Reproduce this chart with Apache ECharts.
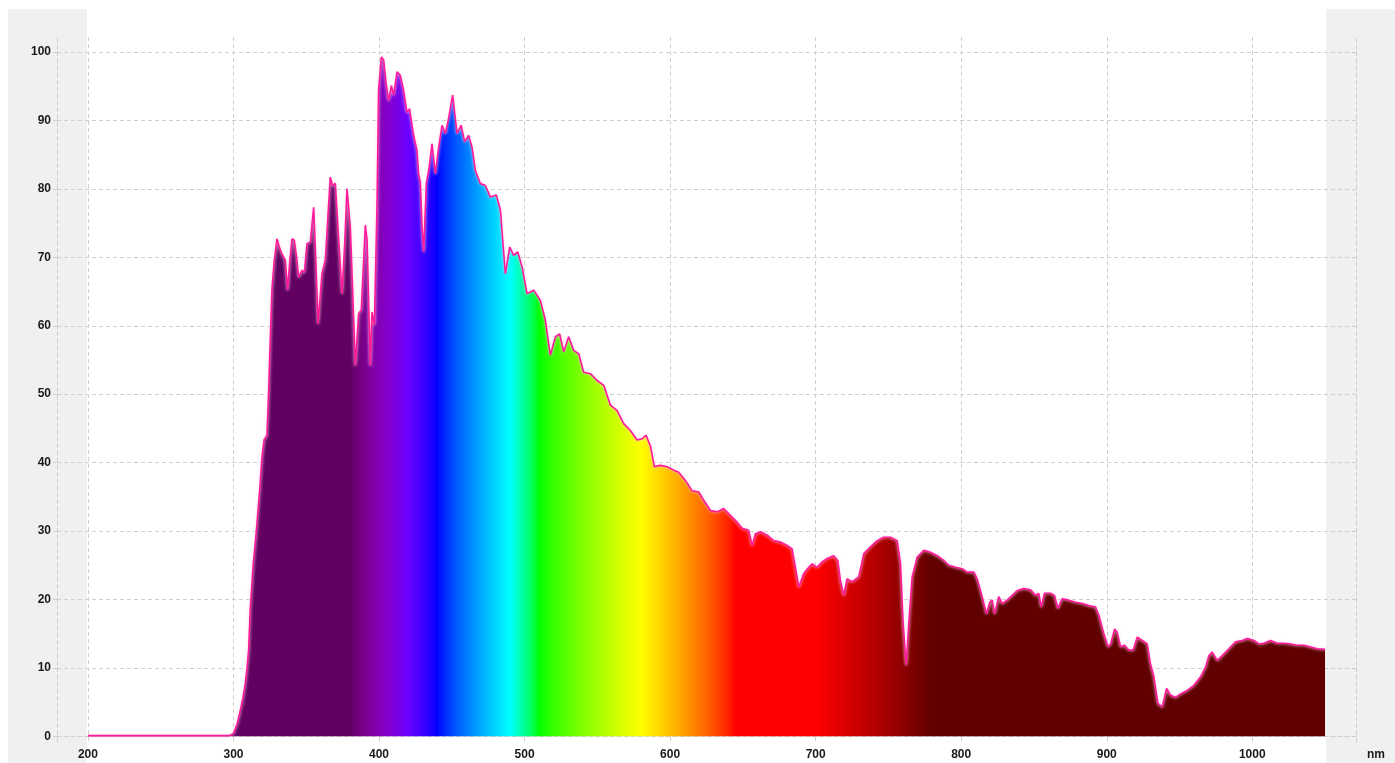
<!DOCTYPE html>
<html><head><meta charset="utf-8">
<script src="https://cdn.jsdelivr.net/npm/echarts@6/dist/echarts.min.js"></script>
<style>html,body{margin:0;padding:0;background:#fff}#c{width:1395px;height:763px}</style>
</head><body><div id="c"></div>
<script>
const wavelengths = [200,215,216,217,255,256,257,270,271,272,297,300,302.5,304.7,306.5,308.1,309.3,310.4,311.5,313.5,315.7,318,319.6,321,323,324.1,325.2,326.4,328,329.9,331.5,333.3,335.6,337.2,338.7,340.2,341.8,343.4,344.8,347.1,348.7,350.5,352.8,355.1,356.6,358.1,360.8,363.1,366.5,368.1,370,372.2,374.6,376.4,378,380.3,382,383.7,386,387.8,390.6,391.8,394,395.2,396.8,398.6,399.7,401.6,403.2,405,406.6,408.5,410,412.4,414.6,416.9,419.2,421,423.8,426.1,427.2,428.4,429.6,430.7,432.5,434.5,436.4,438.7,441,443.3,445.6,447.8,450.6,453.6,456.4,458.8,461.6,463.9,466.2,469.6,473.1,476.5,480.6,483.4,486.8,489.8,492.5,495.3,498.3,501.7,506.3,510.9,514.3,517.7,521.2,524.1,526.9,530.3,533.7,537.2,540.6,545.2,549.8,554.4,559,563.6,568.1,572.7,577.3,580.8,583.5,586.5,589.2,593.4,597.9,602.5,605.9,610.5,615.1,619.7,623.1,627.7,632.3,636.8,641.4,646,649.5,654,656.4,658.6,662.1,666.7,671.2,675.8,680.4,683.8,686.1,688.4,691.8,695.3,697.6,701,704.5,707.9,712.4,715.2,717,719.3,721.6,725.1,729.6,733.1,737.7,742.3,746.8,751.4,756,758.3,760.1,762.2,764,766.3,769.8,774.3,778.9,783.5,788.1,791.5,796.1,800.7,804.1,808.7,811,814.4,817.4,819.7,821.3,822.9,825.8,828.2,831.6,835.1,838.5,843,847.6,851.1,853.3,855,857.2,861.4,864.1,866.4,869.4,874,878.6,883.2,887.7,892.3,894.6,898,900.8,902.7,905.4,907.2,909.5,912.2,915.2,918.2,921,924.4,927.8,930,932.4,935.1,938.1,941.1,943.8,947.3,950.7,955.3,959.9,964.5,967.9,970.2,972.5,975.9,979.4,983.9,988.5,993.1,996.6,1001.1,1004.6,1008,1012.6,1017.2,1021.7,1026.3,1030.9,1035.5,1040.1,1044.7,1050];
const intensity = [0.1,0.12,0.2,0.1,0.1,0.25,0.1,0.1,0.2,0.1,0.1,0.4,1.8,3.8,5.6,7.7,10,12.6,18.5,25,30,36,40.8,43.3,44,50.1,57.5,65.2,69.5,72.7,71.5,70.5,69.6,65.2,69.5,72.7,72.5,70,67.1,68.1,67.8,72,72.2,77.3,69.5,60.3,67.6,69.6,81.7,80.5,80.8,73,64.7,72,80,74.4,64.5,54.2,61.8,62.3,74.7,72.5,54.2,62,60.1,77.3,94.4,99.3,98.8,95.2,92.9,95.1,93.7,97.1,96.6,94.4,91.2,91.7,87.8,85.6,82.2,81,74.4,70.8,80.8,83.2,86.6,82.2,86.1,89.3,88.1,90.3,93.7,88.1,89.3,86.9,87.8,86.1,82.7,80.8,80.5,78.8,79.1,76.9,67.6,71.5,70.3,70.8,68.6,64.7,65.2,63.7,60.8,55.7,58.4,58.8,56.2,58.4,56.4,55.9,53.2,53,52,51.3,48.4,47.6,45.7,44.7,43.3,43.5,44,42.4,39.4,39.6,39.4,38.9,38.6,37.4,35.9,35.7,34.5,33,32.8,33.3,32.3,31.3,30.4,30.1,27.9,29.6,29.9,29.4,28.6,28.4,27.9,27.4,24.7,21.8,23.8,24.7,25.2,24.7,25.5,26,26.4,25.7,22.8,20.6,23,22.6,23.3,26.7,27.7,28.6,29.1,29.1,28.6,25.2,16.5,10.4,16.5,23.3,26.2,27.2,26.9,26.4,25.7,25,24.7,24.5,24,24,23,20.4,17.9,19.6,19.9,17.9,20.4,19.4,19.9,20.6,21.3,21.6,21.4,20.6,20.9,18.9,20.9,20.9,20.6,18.7,20.1,19.9,19.6,19.4,19.1,18.9,17.7,15,13.1,13.5,15.7,15.2,13.1,13.3,12.6,12.6,14.5,14,13.5,10.6,8.7,4.8,4.3,7,6,5.7,6.2,6.7,7.45,8.7,10.1,11.8,12.3,11.1,11.8,12.8,13.8,14,14.3,14,13.5,13.6,14,13.6,13.6,13.5,13.3,13.3,13.05,12.8,12.7];
const xTicks = [200,300,400,500,600,700,800,900,1000];
const yTicks = [0,10,20,30,40,50,60,70,80,90,100];
const dataMin = 200, dataMax = 1050;

const seriesData = wavelengths.map((w, i) => [w, intensity[i]]);

// visible-spectrum colour for a wavelength (style only)
function spectrumColor(l) {
  l = Math.max(380, Math.min(780, l));
  let r = 0, g = 0, b = 0;
  if (l < 440) { r = -(l - 440) / 60; b = 1; }
  else if (l < 490) { g = (l - 440) / 50; b = 1; }
  else if (l < 510) { g = 1; b = -(l - 510) / 20; }
  else if (l < 580) { r = (l - 510) / 70; g = 1; }
  else if (l < 645) { r = 1; g = -(l - 645) / 65; }
  else { r = 1; }
  let f = 1;
  if (l < 420) f = 0.3 + 0.7 * (l - 380) / 40;
  else if (l > 700) f = 0.3 + 0.7 * (780 - l) / 80;
  const c = v => Math.round(255 * Math.pow(v * f, 0.8));
  return 'rgb(' + c(r) + ',' + c(g) + ',' + c(b) + ')';
}
const stops = [];
for (let l = dataMin; l <= dataMax; l += 2.5) {
  stops.push({ offset: (l - dataMin) / (dataMax - dataMin), color: spectrumColor(l) });
}

const gridLine = { show: true, lineStyle: { color: '#cfcfcf', type: [4, 3], width: 1 } };
const border = { show: true, lineStyle: { color: '#cfcfcf', type: [4, 3], width: 1 } };
const labelStyle = { color: '#1a1a1a', fontWeight: 'bold', fontSize: 12, fontFamily: 'Liberation Sans, Arial, sans-serif' };

const chart = echarts.init(document.getElementById('c'), null, { renderer: 'canvas' });
chart.setOption({
  animation: false,
  backgroundColor: '#ffffff',
  grid: { left: 57, top: 37, right: 39, bottom: 21, containLabel: false, outerBoundsMode: 'none' },
  xAxis: [{
    type: 'value', min: 178.75, max: 1071.25,
    axisLine: border,
    axisTick: { show: true, length: 4, customValues: xTicks, lineStyle: { color: '#cfcfcf' } },
    axisLabel: Object.assign({ customValues: xTicks, margin: 7, formatter: v => String(v) }, labelStyle),
    splitLine: gridLine,
    name: 'nm', nameLocation: 'end', nameGap: 11,
    nameTextStyle: Object.assign({ verticalAlign: 'top', padding: [12, 0, 0, 0] }, labelStyle)
  }, {
    type: 'value', position: 'top', min: 178.75, max: 1071.25,
    axisLine: border, axisTick: { show: false }, axisLabel: { show: false }, splitLine: { show: false }
  }],
  yAxis: [{
    type: 'value', min: -0.83, max: 102.2,
    axisLine: border,
    axisTick: { show: true, length: 4, customValues: yTicks, lineStyle: { color: '#cfcfcf' } },
    axisLabel: Object.assign({ customValues: yTicks, margin: 6, formatter: v => String(v) }, labelStyle),
    splitLine: gridLine
  }, {
    type: 'value', position: 'right', min: -0.83, max: 102.2,
    axisLine: border, axisTick: { show: false }, axisLabel: { show: false }, splitLine: { show: false }
  }],
  series: [{
    type: 'line',
    data: seriesData,
    symbol: 'none',
    smooth: false,
    z: 3,
    lineStyle: { color: '#ff1a99', width: 1.6, shadowColor: 'rgba(255,200,230,1)', shadowBlur: 3 },
    areaStyle: { opacity: 1, color: new echarts.graphic.LinearGradient(0, 0, 1, 0, stops) }
  }]
});

// light grey bands outside the measured range
const x0 = chart.convertToPixel({ xAxisIndex: 0 }, dataMin);
const x1 = chart.convertToPixel({ xAxisIndex: 0 }, dataMax);
const W = chart.getWidth(), H = chart.getHeight();
chart.setOption({
  graphic: [
    { type: 'rect', z: -10, silent: true, shape: { x: 8, y: 9, width: x0 - 8 - 1, height: H - 9 }, style: { fill: '#f0f0f0' } },
    { type: 'rect', z: -10, silent: true, shape: { x: x1 + 1, y: 9, width: W - x1 - 1, height: H - 9 }, style: { fill: '#f0f0f0' } }
  ]
});
</script>
</body></html>
